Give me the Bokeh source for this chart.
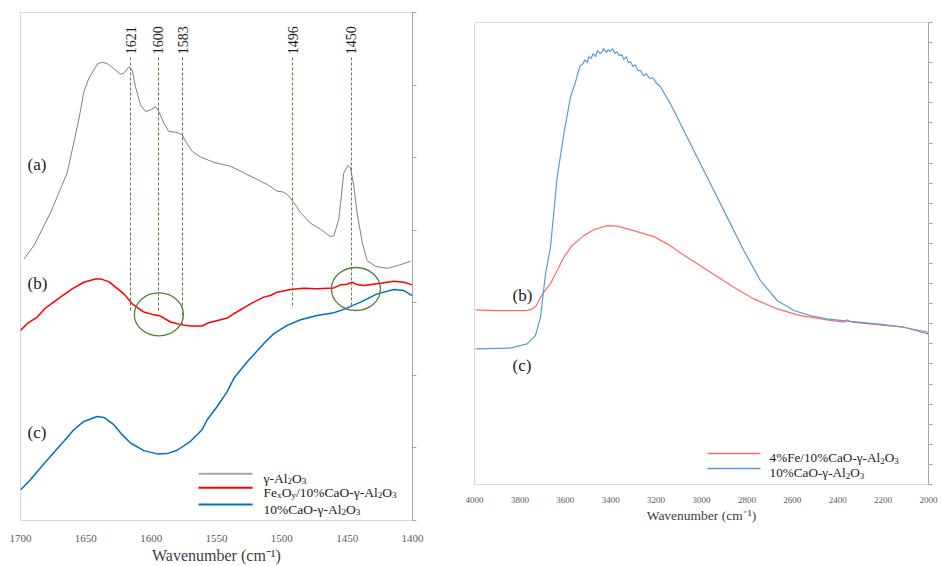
import math
from bokeh.plotting import figure
from bokeh.models import Range1d, FixedTicker, Label
from bokeh.embed import file_html
from bokeh.resources import INLINE

FONT = "Liberation Serif"

# ---------------- data: left panel (1700-1400 cm-1) ----------------
gray_w = [1697.4, 1689.8, 1677.0, 1664.3, 1655.4, 1651.5, 1647.7, 1641.3, 1637.5, 1633.7,
          1628.6, 1623.5, 1620.9, 1617.1, 1614.5, 1612.0, 1608.2, 1604.3, 1600.5, 1596.7,
          1594.1, 1590.3, 1586.5, 1580.1, 1576.3, 1573.7, 1568.6, 1562.2, 1552.0, 1539.3,
          1531.6, 1518.9, 1511.2, 1503.6, 1498.5, 1494.6, 1490.8, 1485.7, 1478.1, 1470.4,
          1462.8, 1460.2, 1456.4, 1452.6, 1449.2, 1447.4, 1444.9, 1442.4, 1438.5, 1434.7,
          1428.3, 1419.4, 1411.7, 1401.5]
gray_v = [3.603, 3.785, 4.242, 4.790, 5.521, 5.909, 6.091, 6.288, 6.315, 6.297,
          6.228, 6.151, 6.160, 6.251, 6.205, 5.977, 5.726, 5.635, 5.658, 5.703,
          5.635, 5.475, 5.361, 5.347, 5.315, 5.224, 5.087, 5.009, 4.936, 4.881,
          4.813, 4.699, 4.630, 4.539, 4.525, 4.470, 4.379, 4.242, 4.096, 4.014,
          3.913, 3.922, 4.151, 4.790, 4.895, 4.858, 4.607, 4.242, 3.831, 3.580,
          3.502, 3.475, 3.511, 3.571]

red_w = [1700.0, 1694.9, 1687.2, 1680.9, 1669.4, 1660.5, 1651.5, 1642.6, 1638.8, 1632.4,
         1627.3, 1620.9, 1614.5, 1605.6, 1599.2, 1594.1, 1590.3, 1585.2, 1577.6, 1569.9,
         1561.0, 1555.9, 1546.9, 1541.8, 1536.7, 1524.0, 1513.8, 1508.7, 1503.6, 1493.4,
         1483.2, 1473.0, 1460.2, 1455.1, 1450.0, 1446.2, 1442.4, 1437.2, 1424.5, 1414.3,
         1406.6, 1400.2]
red_v = [2.620, 2.712, 2.804, 2.927, 3.078, 3.192, 3.283, 3.329, 3.329, 3.292,
         3.215, 3.123, 2.986, 2.872, 2.840, 2.826, 2.790, 2.735, 2.699, 2.680,
         2.680, 2.726, 2.767, 2.790, 2.849, 2.986, 3.078, 3.100, 3.146, 3.183,
         3.201, 3.192, 3.205, 3.247, 3.256, 3.283, 3.251, 3.237, 3.269, 3.297,
         3.283, 3.247]

blue_w = [1700.0, 1692.3, 1684.7, 1677.0, 1666.8, 1659.2, 1651.5, 1641.3, 1636.2, 1628.6,
          1622.2, 1615.8, 1605.6, 1595.4, 1587.8, 1580.1, 1569.9, 1561.0, 1557.1, 1549.5,
          1541.8, 1536.7, 1526.5, 1513.8, 1506.1, 1495.9, 1485.7, 1473.0, 1460.2, 1452.6,
          1439.8, 1427.0, 1414.3, 1406.6, 1400.2]
blue_v = [0.420, 0.566, 0.726, 0.886, 1.091, 1.251, 1.365, 1.434, 1.420, 1.320,
          1.183, 1.068, 0.963, 0.918, 0.922, 0.968, 1.091, 1.251, 1.388, 1.571,
          1.776, 1.959, 2.187, 2.438, 2.575, 2.689, 2.767, 2.826, 2.863, 2.909,
          3.009, 3.123, 3.183, 3.169, 3.100]

peak_labels = ["1621", "1600", "1583", "1496", "1450"]
peak_x = [1615.8, 1594.4, 1576.0, 1491.8, 1446.7]
peak_top = [6.38, 6.38, 6.38, 6.38, 6.38]
peak_bottom = [2.89, 2.89, 2.71, 2.93, 2.96]

circle_x = [1594.1, 1443.3]
circle_y = [2.84, 3.19]

left_ticks = [1700, 1650, 1600, 1550, 1500, 1450, 1400]

# ---------------- data: right panel (4000-2000 cm-1) ----------------
r_red_w = [3995.6, 3914.9, 3767.9, 3745.9, 3726.9, 3709.3, 3687.2, 3665.2, 3635.8, 3606.5,
           3569.8, 3518.5, 3474.5, 3415.8, 3371.8, 3298.4, 3210.2, 3151.4, 3063.3, 2960.4,
           2857.7, 2769.5, 2666.7, 2563.9, 2446.4, 2373.1, 2358.4, 2336.3, 2226.2, 2108.9,
           2001.5]
r_red_v = [8.69, 8.66, 8.66, 8.73, 8.91, 9.32, 9.69, 9.99, 10.65, 11.31,
           11.90, 12.39, 12.68, 12.89, 12.86, 12.64, 12.34, 11.98, 11.31, 10.57,
           9.82, 9.24, 8.74, 8.41, 8.20, 8.08, 8.20, 8.08, 7.96, 7.83,
           7.58]

r_blue_w = [3995.6, 3841.4, 3767.9, 3731.3, 3709.3, 3687.2, 3665.2, 3635.8, 3606.5, 3577.1,
            3555.1, 3543, 3534, 3522, 3514, 3503, 3497, 3486, 3478, 3466,
            3459, 3447, 3438, 3431, 3419, 3411, 3402, 3391, 3383, 3374,
            3362, 3350, 3343, 3331, 3322, 3313, 3301, 3292, 3279, 3268,
            3255, 3243, 3228, 3214, 3200, 3181, 3136.6, 3077.9, 3019.2, 2960.4,
            2887.0, 2813.6, 2740.2, 2666.7, 2593.3, 2519.9, 2446.4, 2358.4, 2226.2, 2108.9,
            2001.5]
r_blue_v = [6.75, 6.79, 7.00, 7.42, 8.33, 10.49, 11.81, 15.30, 17.46, 19.28,
            20.03, 20.55, 20.85, 20.95, 21.15, 21.0, 21.3, 21.2, 21.45, 21.3,
            21.6, 21.45, 21.55, 21.7, 21.5, 21.65, 21.55, 21.7, 21.45, 21.55,
            21.35, 21.4, 21.15, 21.3, 21.0, 21.05, 20.8, 20.9, 20.6, 20.6,
            20.35, 20.45, 20.2, 20.25, 20.0, 19.8, 18.95, 17.62, 16.29, 14.97,
            13.31, 11.65, 10.15, 9.16, 8.66, 8.41, 8.25, 8.13, 8.00, 7.83,
            7.50]

right_ticks = list(range(4000, 1999, -200))

# ---------------- styles ----------------
GRAY = "#7f7f7f"
RED = "#ff0000"
BLUE = "#0070c0"
RED2 = "#ff6b6b"
BLUE2 = "#5b9bd5"
GREEN = "#548235"
TICKLBL = "#595959"
AXLINE = "#a6a6a6"
FRAME = "#d9d9d9"

# Times-metric widths (Liberation Serif) for rich text layout
W = {'F': .556, 'e': .444, 'O': .722, '/': .278, '1': .5, '0': .5, '%': .833, 'C': .667,
     'a': .444, '-': .333, 'γ': .44, 'A': .722, 'l': .278, 'x': .5, 'y': .5, '2': .5,
     '3': .5, '4': .5, ' ': .25}


def rich(p, x, y, segs, size, color="#1a1a1a"):
    off = 0.0
    for t, k in segs:
        fs = size if k == "n" else size * 0.68
        yo = -0.33 * size
        if k == "s":
            yo -= 0.22 * size
        p.add_layout(Label(x=x, y=y, x_offset=off, y_offset=yo, text=t, text_font=FONT,
                           text_font_size=f"{fs:.1f}px", text_color=color,
                           text_baseline="alphabetic", text_align="left"))
        off += sum(W.get(c, 0.5) for c in t) * fs


def style(p, ticks, tick_fs, lbl_fs, standoff, lbl_standoff, ymax):
    p.outline_line_color = FRAME
    p.xgrid.grid_line_color = None
    p.ygrid.grid_line_color = None
    xa = p.xaxis[0]
    xa.ticker = FixedTicker(ticks=ticks)
    xa.major_tick_line_color = None
    xa.minor_tick_line_color = None
    xa.axis_line_color = FRAME
    xa.major_label_text_font = FONT
    xa.major_label_text_font_size = tick_fs
    xa.major_label_text_color = TICKLBL
    xa.major_label_standoff = standoff
    xa.axis_label = "Wavenumber (cm\u207b\u00b9)"
    xa.axis_label_text_font = FONT
    xa.axis_label_text_font_size = lbl_fs
    xa.axis_label_text_font_style = "normal"
    xa.axis_label_text_color = "#404040"
    xa.axis_label_standoff = lbl_standoff
    ya = p.yaxis[0]
    yt = list(range(0, ymax + 1))
    ya.ticker = FixedTicker(ticks=yt)
    ya.major_label_overrides = {t: "" for t in yt}
    ya.major_label_standoff = 0
    ya.axis_line_color = AXLINE
    ya.major_tick_line_color = AXLINE
    ya.major_tick_in = 0
    ya.major_tick_out = 4
    ya.minor_tick_line_color = None


# ---------------- left panel ----------------
p1 = figure(width=460, height=566, x_range=Range1d(1700, 1400), y_range=Range1d(0, 7),
            output_backend="svg", toolbar_location=None, y_axis_location="right",
            min_border_left=20, min_border_right=48, min_border_top=12, min_border_bottom=43,
            background_fill_color="white", border_fill_color="white")
style(p1, left_ticks, "11px", "16px", 8, 2, 7)

p1.line(gray_w, gray_v, line_color=GRAY, line_width=1)
p1.line(red_w, red_v, line_color=RED, line_width=1.5)
p1.line(blue_w, blue_v, line_color=BLUE, line_width=1.5)

p1.segment(x0=peak_x, y0=peak_top, x1=peak_x, y1=peak_bottom, line_color=GREEN,
           line_dash="3 2", line_width=1)
p1.text(x=peak_x, y=[6.425] * len(peak_x), text=peak_labels, angle=math.pi / 2,
        text_align="left", text_baseline="middle", text_font="Liberation Serif",
        text_font_size="14px", text_color="#1a1a1a")
p1.ellipse(x=circle_x, y=circle_y, width=49, height=43, width_units="screen",
           height_units="screen", fill_color=None, line_color=GREEN, line_width=1.3)

for t, yy in [("(a)", 4.9), ("(b)", 3.26), ("(c)", 1.21)]:
    p1.add_layout(Label(x=1700, y=yy, x_offset=7, text=t, text_font=FONT, text_font_size="17px",
                        text_color="#1a1a1a", text_baseline="middle"))

p1.add_layout(Label(x=1400, y=3.6, x_offset=18, text="a.u.", angle=math.pi / 2,
                    text_align="center", text_baseline="middle", text_font=FONT,
                    text_font_size="15px", text_color=GRAY))

# legend (left)
lx0, lx1, ltx = 1563.8, 1522.4, 1514.0
for col, yy, w in [("#a6a6a6", 0.644, 2), (RED, 0.452, 2), (BLUE, 0.219, 2)]:
    p1.segment(x0=[lx0], y0=[yy], x1=[lx1], y1=[yy], line_color=col, line_width=w)
rich(p1, ltx, 0.644, [("γ-Al", "n"), ("2", "s"), ("O", "n"), ("3", "s")], 13.5)
rich(p1, ltx, 0.452, [("Fe", "n"), ("x", "s"), ("O", "n"), ("y", "s"),
                      ("/10%CaO-γ-Al", "n"), ("2", "s"), ("O", "n"), ("3", "s")], 13.5)
rich(p1, ltx, 0.219, [("10%CaO-γ-Al", "n"), ("2", "s"), ("O", "n"), ("3", "s")], 13.5)

# ---------------- right panel ----------------
p2 = figure(width=482, height=566, x_range=Range1d(4000, 2000), y_range=Range1d(0, 23),
            output_backend="svg", toolbar_location=None, y_axis_location="right",
            min_border_left=14, min_border_right=14, min_border_top=22, min_border_bottom=82,
            background_fill_color="white", border_fill_color="white")
style(p2, right_ticks, "9px", "13.5px", 6, 2, 23)

p2.line(r_red_w, r_red_v, line_color=RED2, line_width=1.2)
p2.line(r_blue_w, r_blue_v, line_color=BLUE2, line_width=1.2)

p2.add_layout(Label(x=4000, y=9.4, x_offset=38, text="(b)", text_font=FONT, text_font_size="17px",
                    text_color="#1a1a1a", text_baseline="middle"))
p2.add_layout(Label(x=4000, y=5.9, x_offset=38, text="(c)", text_font=FONT, text_font_size="17px",
                    text_color="#1a1a1a", text_baseline="middle"))
p2.add_layout(Label(x=2000, y=12.0, x_offset=7, text="a.u.", angle=math.pi / 2,
                    text_align="center", text_baseline="middle", text_font=FONT,
                    text_font_size="13px", text_color=GRAY))

rx0, rx1, rtx = 2973.6, 2740.0, 2700.0
for col, yy in [(RED2, 1.54), (BLUE2, 0.80)]:
    p2.segment(x0=[rx0], y0=[yy], x1=[rx1], y1=[yy], line_color=col, line_width=1.5)
rich(p2, rtx, 1.54, [("4%Fe/10%CaO-γ-Al", "n"), ("2", "s"), ("O", "n"), ("3", "s")], 13.2)
rich(p2, rtx, 0.80, [("10%CaO-γ-Al", "n"), ("2", "s"), ("O", "n"), ("3", "s")], 13.2)

# two independent roots laid side by side (no frame alignment between panels)
html = file_html([p1, p2], INLINE)
i = html.rfind("<body>")
if i >= 0:
    html = html[:i] + '<body style="display:flex;flex-direction:row;align-items:flex-start;margin:0;">' + html[i + 6:]
open("out.html", "w").write(html)
